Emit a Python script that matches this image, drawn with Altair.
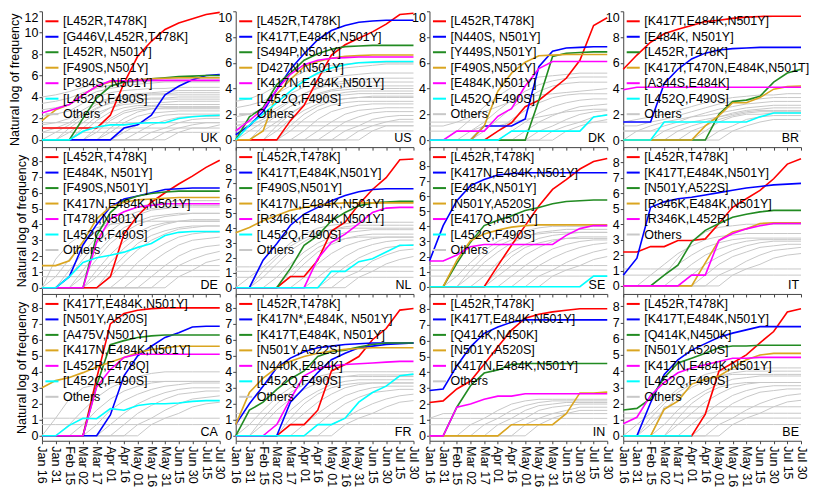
import altair as alt
import pandas as pd

TICK_LABELS = ["Jan 16", "Jan 31", "Feb 15", "Mar 02", "Mar 17", "Apr 01", "Apr 16",
               "May 01", "May 16", "May 31", "Jun 15", "Jun 30", "Jul 15", "Jul 30"]
COLORS = ["#ff0000", "#0000ff", "#228b22", "#daa520", "#ff00ff", "#00ffff"]
OTHERS_COLOR = "#c8c8c8"

# ---------------- UK ----------------
UK_NAMES = ["[L452R,T478K]", "[G446V,L452R,T478K]", "[L452R, N501Y]", "[F490S,N501Y]",
            "[P384S, N501Y]", "[L452Q,F490S]"]
UK_LINES = [
    [1.1, 1.1, 1.1, 1.1, 1.1, 2.3, 5.3, 7.8, 9.2, 10.3, 10.9, 11.3, 11.7, 11.9],
    [0, 0, 0, 0, 0, 0, 1.1, 1.4, 2.3, 4.2, 5.0, 5.6, 6.0, 6.1],
    [0, 0, 0, 2.0, 3.9, 5.0, 5.4, 5.55, 5.7, 5.8, 5.9, 5.95, 6.0, 6.0],
    [1.8, 2.8, 3.3, 4.2, 5.0, 5.4, 5.5, 5.6, 5.7, 5.75, 5.8, 5.8, 5.8, 5.8],
    [2.5, 2.9, 3.3, 4.2, 5.0, 5.5, 5.5, 5.55, 5.55, 5.55, 5.55, 5.55, 5.55, 5.55],
    [0, 0, 0, 0.8, 1.2, 1.4, 1.4, 1.55, 1.6, 1.6, 2.0, 2.15, 2.25, 2.3],
]
UK_OTHERS = [
    [4.0, 4.2, 4.5, 4.9, 5.2, 5.4, 5.5, 5.6, 5.6, 5.7, 5.7, 5.7, 5.7, 5.7],
    [3.4, 3.6, 3.9, 4.4, 4.8, 5.1, 5.3, 5.4, 5.5, 5.5, 5.5, 5.5, 5.5, 5.5],
    [2.8, 3.0, 3.3, 3.9, 4.5, 4.8, 5.0, 5.2, 5.3, 5.4, 5.4, 5.4, 5.4, 5.4],
    [2.2, 2.4, 2.7, 3.4, 4.0, 4.4, 4.6, 4.7, 4.8, 4.8, 4.9, 4.9, 4.9, 4.9],
    [1.4, 1.6, 2.0, 2.8, 3.5, 3.9, 4.1, 4.2, 4.3, 4.3, 4.4, 4.4, 4.4, 4.4],
    [0.7, 1.1, 1.6, 2.5, 3.3, 3.8, 4.1, 4.3, 4.4, 4.5, 4.6, 4.6, 4.6, 4.6],
    [0, 0.7, 1.4, 2.3, 3.0, 3.4, 3.6, 3.8, 3.9, 3.9, 4.0, 4.0, 4.0, 4.0],
    [0, 0, 1.1, 2.0, 2.9, 3.5, 3.9, 4.1, 4.2, 4.2, 4.2, 4.2, 4.2, 4.2],
    [0, 0, 0.7, 1.6, 2.5, 3.0, 3.3, 3.4, 3.5, 3.5, 3.6, 3.6, 3.6, 3.6],
    [0, 0, 0, 1.1, 2.2, 3.0, 3.5, 3.7, 3.8, 3.8, 3.8, 3.8, 3.8, 3.8],
    [0, 0, 0, 0.7, 1.8, 2.6, 3.0, 3.2, 3.2, 3.3, 3.3, 3.3, 3.3, 3.3],
    [0, 0, 0, 0, 1.1, 2.0, 2.7, 3.0, 3.1, 3.1, 3.1, 3.1, 3.1, 3.1],
    [0, 0, 0, 0, 0.7, 1.8, 2.5, 2.8, 2.9, 3.0, 3.0, 3.0, 3.0, 3.0],
    [0, 0, 0, 0, 0, 1.1, 2.0, 2.6, 2.9, 2.9, 2.9, 2.9, 2.9, 2.9],
    [0, 0, 0, 0, 0, 0.7, 1.6, 2.2, 2.5, 2.6, 2.7, 2.7, 2.7, 2.7],
    [0, 0, 0, 0, 0, 0, 0.7, 1.4, 2.0, 2.3, 2.4, 2.4, 2.4, 2.4],
    [0, 0, 0, 0, 0, 0, 0, 0.7, 1.4, 1.8, 2.1, 2.2, 2.2, 2.2],
    [0, 0, 0, 0, 0, 0, 0, 0, 0.7, 1.1, 1.6, 1.9, 2.0, 2.0],
    [0, 0, 0, 0, 0, 0, 0, 0, 0, 0.7, 1.1, 1.4, 1.6, 1.6],
    [0.7, 0.7, 0.7, 0.7, 0.7, 0.7, 0.7, 0.7, 0.7, 0.7, 0.7, 0.7, 0.7, 0.7],
    [1.1, 1.1, 1.1, 1.1, 1.1, 1.1, 1.1, 1.1, 1.1, 1.1, 1.1, 1.1, 1.1, 1.1],
    [1.6, 1.6, 1.6, 1.6, 1.6, 1.6, 1.6, 1.6, 1.6, 1.6, 1.6, 1.6, 1.6, 1.6],
    [0, 0, 0, 0, 0, 0, 0, 0, 0, 0, 0.7, 1.1, 1.1, 1.4],
]

# ---------------- US ----------------
US_NAMES = ["[L452R,T478K]", "[K417T,E484K,N501Y]", "[S494P,N501Y]", "[D427N,N501Y]",
            "[K417N,E484K,N501Y]", "[L452Q,F490S]"]
US_LINES = [
    [0, 0, 0, 0, 1.5, 2.7, 4.7, 6.6, 7.4, 7.9, 8.4, 9.0, 9.75, 9.85],
    [0.4, 1.1, 2.2, 3.9, 5.5, 6.7, 7.8, 8.5, 8.9, 9.15, 9.25, 9.3, 9.3, 9.3],
    [0, 1.8, 2.5, 4.3, 5.2, 6.2, 6.7, 7.05, 7.25, 7.3, 7.35, 7.35, 7.35, 7.35],
    [0, 0, 0.7, 3.55, 4.7, 5.7, 6.1, 6.35, 6.5, 6.55, 6.6, 6.6, 6.6, 6.6],
    [0.7, 1.5, 2.4, 3.9, 5.1, 5.85, 6.2, 6.35, 6.4, 6.45, 6.45, 6.45, 6.45, 6.45],
    [0, 1.15, 2.0, 2.9, 3.8, 4.6, 5.2, 5.6, 5.85, 6.0, 6.05, 6.1, 6.1, 6.1],
]
US_OTHERS = [
    [3.0, 3.2, 3.6, 4.2, 4.8, 5.3, 5.6, 5.8, 5.9, 6.0, 6.0, 6.0, 6.0, 6.0],
    [2.5, 2.7, 3.0, 3.6, 4.2, 4.7, 5.1, 5.4, 5.6, 5.7, 5.8, 5.9, 5.9, 5.9],
    [1.8, 2.0, 2.4, 3.0, 3.6, 4.1, 4.5, 4.8, 5.0, 5.1, 5.2, 5.2, 5.2, 5.2],
    [1.1, 1.4, 1.8, 2.5, 3.1, 3.6, 4.0, 4.3, 4.4, 4.5, 4.5, 4.5, 4.5, 4.5],
    [0.7, 1.1, 1.6, 2.3, 3.0, 3.6, 4.1, 4.4, 4.6, 4.7, 4.8, 4.8, 4.8, 4.8],
    [0, 0.7, 1.4, 2.0, 2.6, 3.1, 3.5, 3.8, 3.9, 4.0, 4.0, 4.0, 4.0, 4.0],
    [0, 0, 1.1, 1.9, 2.6, 3.2, 3.6, 3.9, 4.1, 4.2, 4.2, 4.2, 4.2, 4.2],
    [0, 0, 0.7, 1.4, 2.1, 2.7, 3.1, 3.4, 3.5, 3.6, 3.6, 3.6, 3.6, 3.6],
    [0, 0, 0, 1.1, 2.0, 2.7, 3.2, 3.5, 3.7, 3.8, 3.8, 3.8, 3.8, 3.8],
    [0, 0, 0, 0.7, 1.6, 2.3, 2.8, 3.1, 3.2, 3.3, 3.3, 3.3, 3.3, 3.3],
    [0, 0, 0, 0, 1.1, 2.0, 2.6, 3.0, 3.2, 3.3, 3.4, 3.4, 3.4, 3.4],
    [0, 0, 0, 0, 0.7, 1.6, 2.3, 2.7, 2.9, 3.0, 3.0, 3.0, 3.0, 3.0],
    [0, 0, 0, 0, 0, 0.7, 1.6, 2.2, 2.5, 2.7, 2.8, 2.8, 2.8, 2.8],
    [0, 0, 0, 0, 0, 0, 0.7, 1.4, 2.0, 2.3, 2.4, 2.5, 2.5, 2.5],
    [0, 0, 0, 0, 0, 0, 0, 0.7, 1.4, 1.8, 2.1, 2.2, 2.2, 2.2],
    [0, 0, 0, 0, 0, 0, 0, 0, 0.7, 1.1, 1.6, 1.8, 1.9, 1.9],
    [0, 0, 0, 0, 0, 0, 0, 0, 0, 0.7, 1.1, 1.4, 1.6, 1.6],
    [0.7, 0.7, 0.7, 0.7, 0.7, 0.7, 0.7, 0.7, 0.7, 0.7, 0.7, 0.7, 0.7, 0.7],
    [1.1, 1.1, 1.1, 1.1, 1.1, 1.1, 1.1, 1.1, 1.1, 1.1, 1.1, 1.1, 1.1, 1.1],
    [1.4, 1.4, 1.4, 1.4, 1.4, 1.4, 1.4, 1.4, 1.4, 1.4, 1.4, 1.4, 1.4, 1.4],
    [0, 0, 0, 0, 0, 0, 0, 0, 0, 0, 0.7, 1.1, 1.1, 1.1],
]

# ---------------- DK ----------------
DK_NAMES = ["[L452R,T478K]", "[N440S, N501Y]", "[Y449S,N501Y]", "[F490S,N501Y]",
            "[E484K,N501Y]", "[L452Q,F490S]"]
DK_LINES = [
    [0, 0, 0, 0, 0, 0.7, 1.35, 2.6, 3.1, 3.95, 4.8, 6.2, 8.9, 9.5],
    [0, 0, 0, 0, 1.1, 1.1, 1.1, 1.65, 5.7, 6.9, 7.15, 7.2, 7.25, 7.25],
    [0, 0, 0, 0, 0, 0, 0, 0, 3.1, 6.5, 6.75, 6.8, 6.85, 6.85],
    [0, 0, 0, 0, 1.1, 3.8, 5.2, 6.05, 6.55, 6.6, 6.65, 6.65, 6.65, 6.65],
    [0, 0, 0.7, 0.7, 0.7, 1.85, 2.45, 4.2, 5.55, 6.1, 6.1, 6.1, 6.1, 6.1],
    [0, 0, 0, 0, 0, 0, 0.7, 0.7, 0.7, 0.7, 0.7, 0.7, 1.8, 1.95],
]
DK_OTHERS = [
    [0, 0, 0.7, 1.6, 2.6, 3.4, 4.1, 4.6, 4.9, 5.0, 5.1, 5.2, 5.2, 5.2],
    [0, 0, 0, 0.7, 1.4, 2.3, 3.1, 3.8, 4.3, 4.6, 4.8, 4.9, 4.9, 4.9],
    [0, 0, 0, 0, 0.7, 1.6, 2.5, 3.2, 3.8, 4.2, 4.4, 4.5, 4.5, 4.5],
    [1.1, 1.1, 1.4, 1.8, 2.2, 2.6, 3.0, 3.3, 3.5, 3.6, 3.7, 3.8, 3.9, 4.0],
    [0, 0, 0, 0, 0, 0.7, 1.6, 2.3, 2.9, 3.3, 3.5, 3.6, 3.6, 3.6],
    [0, 0, 0, 0, 0, 0, 0.7, 1.4, 2.1, 2.6, 2.9, 3.1, 3.2, 3.2],
    [0.7, 0.7, 0.7, 0.7, 1.1, 1.1, 1.4, 1.6, 1.8, 2.0, 2.2, 2.3, 2.4, 2.4],
    [0, 0, 0, 0, 0, 0, 0, 0.7, 1.4, 1.9, 2.3, 2.6, 2.7, 2.8],
    [0, 0, 0, 0, 0, 0, 0, 0, 0.7, 1.1, 1.6, 2.0, 2.2, 2.3],
    [0, 0, 0, 0, 0, 0, 0, 0, 0, 0.7, 1.1, 1.4, 1.8, 2.0],
    [0, 0, 0, 0, 0, 0, 0, 0, 0, 0, 0.7, 1.1, 1.4, 1.6],
    [1.4, 1.4, 1.4, 1.4, 1.4, 1.4, 1.4, 1.4, 1.4, 1.4, 1.4, 1.4, 1.4, 1.4],
]

# ---------------- BR ----------------
BR_NAMES = ["[K417T,E484K,N501Y]", "[E484K, N501Y]", "[L452R,T478K]",
            "[K417T,T470N,E484K,N501T]", "[A344S,E484K]", "[L452Q,F490S]"]
BR_LINES = [
    [5.5, 6.6, 7.6, 8.25, 8.6, 8.9, 9.2, 9.3, 9.45, 9.55, 9.6, 9.62, 9.62, 9.62],
    [1.4, 1.4, 1.4, 4.4, 5.5, 6.3, 6.75, 7.0, 7.1, 7.15, 7.2, 7.2, 7.2, 7.2],
    [0, 0, 0, 0, 0, 0, 0, 2.0, 3.0, 3.1, 3.4, 4.5, 5.2, 5.5],
    [0, 0, 0, 0, 0, 0, 1.1, 1.9, 2.9, 2.9, 3.3, 3.95, 4.15, 4.2],
    [3.9, 4.1, 4.1, 4.1, 4.1, 4.1, 4.1, 4.1, 4.1, 4.1, 4.1, 4.1, 4.1, 4.1],
    [0, 0, 0, 1.4, 1.4, 1.4, 1.4, 1.4, 1.4, 1.4, 1.8, 2.1, 2.1, 2.1],
]
BR_OTHERS = [
    [1.4, 1.6, 1.8, 2.0, 2.3, 2.6, 2.9, 3.1, 3.3, 3.4, 3.5, 3.5, 3.6, 3.6],
    [1.1, 1.1, 1.4, 1.6, 1.9, 2.2, 2.5, 2.8, 3.0, 3.1, 3.2, 3.3, 3.3, 3.3],
    [0.7, 0.7, 0.7, 1.1, 1.4, 1.8, 2.1, 2.4, 2.6, 2.8, 2.9, 3.0, 3.0, 3.0],
    [0, 0.7, 1.1, 1.4, 1.6, 1.8, 1.9, 2.1, 2.3, 2.5, 2.6, 2.7, 2.7, 2.7],
    [0, 0, 0, 0.7, 1.1, 1.4, 1.6, 1.8, 2.1, 2.3, 2.4, 2.5, 2.5, 2.5],
    [0, 0, 0, 0, 0.7, 1.1, 1.4, 1.8, 2.0, 2.2, 2.3, 2.3, 2.3, 2.3],
    [0, 0, 0, 0, 0, 0.7, 1.1, 1.6, 1.9, 2.1, 2.2, 2.2, 2.2, 2.2],
    [0, 0, 0, 0, 0, 0, 0.7, 1.4, 1.8, 2.0, 2.0, 2.1, 2.1, 2.1],
    [0, 0, 0, 0, 0, 0, 0, 0.7, 1.1, 1.6, 1.8, 1.9, 1.9, 1.9],
    [0, 0, 0, 0, 0, 0, 0, 0, 0.7, 1.1, 1.4, 1.6, 1.6, 1.6],
    [0.7, 0.7, 0.7, 0.7, 0.7, 0.7, 0.7, 0.7, 0.7, 0.7, 0.7, 0.7, 0.7, 0.7],
]

# ---------------- DE ----------------
DE_NAMES = ["[L452R,T478K]", "[E484K, N501Y]", "[F490S,N501Y]", "[K417N,E484K,N501Y]",
            "[T478I,N501Y]", "[L452Q,F490S]"]
DE_LINES = [
    [0, 0, 0, 0, 0, 0.7, 3.4, 4.55, 5.4, 6.0, 6.55, 7.05, 7.6, 8.05],
    [0, 0, 0.7, 2.7, 4.0, 5.1, 5.6, 5.8, 6.0, 6.2, 6.25, 6.3, 6.3, 6.3],
    [0, 0, 0, 0, 3.3, 4.75, 5.5, 5.8, 5.95, 6.05, 6.1, 6.1, 6.1, 6.1],
    [1.4, 1.4, 1.7, 2.9, 4.35, 5.1, 5.4, 5.55, 5.6, 5.65, 5.7, 5.7, 5.7, 5.7],
    [0, 0, 0, 0, 2.9, 4.35, 4.8, 5.1, 5.2, 5.3, 5.3, 5.3, 5.3, 5.3],
    [0, 0, 0.7, 1.6, 1.9, 2.05, 2.25, 2.55, 2.8, 3.3, 3.5, 3.55, 3.55, 3.55],
]
DE_OTHERS = [
    [0, 1.8, 2.8, 3.4, 3.8, 4.0, 4.1, 4.2, 4.2, 4.2, 4.2, 4.2, 4.2, 4.2],
    [0, 0.7, 1.8, 2.8, 3.6, 4.3, 4.8, 5.1, 5.3, 5.4, 5.5, 5.5, 5.5, 5.5],
    [0, 0, 1.1, 2.2, 3.2, 4.0, 4.5, 4.8, 5.0, 5.1, 5.2, 5.2, 5.2, 5.2],
    [0, 0, 0.7, 1.8, 2.8, 3.6, 4.2, 4.6, 4.9, 5.0, 5.1, 5.1, 5.1, 5.1],
    [0, 0, 0, 1.1, 2.2, 3.1, 3.8, 4.2, 4.5, 4.6, 4.7, 4.7, 4.7, 4.7],
    [0, 0, 0, 0.7, 1.8, 2.8, 3.5, 4.0, 4.3, 4.5, 4.6, 4.7, 4.7, 4.7],
    [0, 0, 0, 0, 1.1, 2.1, 2.9, 3.5, 3.9, 4.1, 4.2, 4.2, 4.2, 4.2],
    [0, 0, 0, 0, 0.7, 1.6, 2.5, 3.2, 3.7, 4.0, 4.2, 4.3, 4.3, 4.3],
    [0, 0, 0, 0, 0, 1.1, 2.0, 2.8, 3.3, 3.6, 3.8, 3.9, 3.9, 3.9],
    [0, 0, 0, 0, 0, 0.7, 1.6, 2.4, 3.0, 3.4, 3.7, 3.8, 3.9, 3.9],
    [0, 0, 0, 0, 0, 0, 0.7, 1.6, 2.3, 2.8, 3.2, 3.4, 3.5, 3.5],
    [0, 0, 0, 0, 0, 0, 0, 0.7, 1.6, 2.2, 2.7, 3.0, 3.1, 3.2],
    [0, 0, 0, 0, 0, 0, 0, 0, 0.7, 1.4, 2.0, 2.4, 2.6, 2.7],
    [0, 0, 0, 0, 0, 0, 0, 0, 0, 0.7, 1.4, 1.8, 2.1, 2.3],
    [0, 0, 0, 0, 0, 0, 0, 0, 0, 0, 0.7, 1.1, 1.6, 1.8],
    [0.7, 0.7, 0.7, 0.7, 0.7, 0.7, 0.7, 0.7, 0.7, 0.7, 0.7, 0.7, 0.7, 0.7],
    [1.1, 1.1, 1.1, 1.1, 1.1, 1.1, 1.1, 1.1, 1.1, 1.1, 1.1, 1.1, 1.1, 1.1],
    [1.4, 1.4, 1.4, 1.4, 1.4, 1.4, 1.4, 1.4, 1.4, 1.4, 1.4, 1.4, 1.4, 1.4],
]

# ---------------- NL ----------------
NL_NAMES = ["[L452R,T478K]", "[K417T,E484K,N501Y]", "[F490S,N501Y]", "[K417N,E484K,N501Y]",
            "[R346K,E484K,N501Y]", "[L452Q,F490S]"]
NL_LINES = [
    [0, 0, 0, 0, 0.75, 0.75, 1.85, 3.8, 4.4, 5.6, 6.6, 7.4, 8.6, 8.65],
    [0, 0, 1.85, 2.95, 4.2, 4.95, 5.4, 5.85, 6.2, 6.45, 6.6, 6.65, 6.65, 6.65],
    [0, 0, 0, 0, 1.3, 2.85, 3.5, 4.5, 5.05, 5.5, 5.7, 5.75, 5.8, 5.8],
    [3.7, 4.05, 4.5, 4.85, 5.2, 5.4, 5.55, 5.65, 5.7, 5.7, 5.7, 5.7, 5.7, 5.7],
    [0, 0, 0, 0, 0, 0, 1.95, 3.05, 3.6, 4.3, 5.05, 5.35, 5.4, 5.4],
    [0, 0, 0, 0, 0, 0, 0, 1.1, 1.1, 1.75, 1.95, 2.4, 2.85, 2.85],
]
NL_OTHERS = [
    [0, 0.7, 1.4, 2.2, 3.0, 3.6, 4.0, 4.2, 4.3, 4.4, 4.4, 4.4, 4.4, 4.4],
    [0, 0, 1.1, 2.0, 2.8, 3.3, 3.7, 3.9, 4.0, 4.0, 4.0, 4.0, 4.0, 4.0],
    [0, 0, 0.7, 1.6, 2.5, 3.1, 3.6, 3.9, 4.1, 4.2, 4.2, 4.2, 4.2, 4.2],
    [0, 0, 0, 0.7, 1.6, 2.4, 3.0, 3.4, 3.7, 3.8, 3.9, 3.9, 3.9, 3.9],
    [0, 0, 0, 0, 1.1, 2.0, 2.7, 3.1, 3.3, 3.4, 3.4, 3.4, 3.4, 3.4],
    [0, 0, 0, 0, 0.7, 1.6, 2.4, 2.9, 3.3, 3.5, 3.6, 3.6, 3.6, 3.6],
    [0, 0, 0, 0, 0, 0.7, 1.6, 2.3, 2.8, 3.1, 3.3, 3.4, 3.4, 3.4],
    [0, 0, 0, 0, 0, 0, 0.7, 1.4, 2.1, 2.6, 2.9, 3.1, 3.2, 3.2],
    [0, 0, 0, 0, 0, 0, 0, 0.7, 1.4, 2.0, 2.4, 2.7, 2.8, 2.9],
    [0, 0, 0, 0, 0, 0, 0, 0, 0.7, 1.1, 1.8, 2.2, 2.5, 2.6],
    [0, 0, 0, 0, 0, 0, 0, 0, 0, 0.7, 1.1, 1.6, 1.9, 2.1],
    [0.7, 0.7, 0.7, 0.7, 0.7, 0.7, 0.7, 0.7, 0.7, 0.7, 0.7, 0.7, 0.7, 0.7],
    [1.1, 1.1, 1.1, 1.1, 1.1, 1.1, 1.1, 1.1, 1.1, 1.1, 1.1, 1.1, 1.1, 1.1],
    [1.4, 1.4, 1.4, 1.4, 1.4, 1.4, 1.4, 1.4, 1.4, 1.4, 1.4, 1.4, 1.4, 1.4],
]

# ---------------- SE ----------------
SE_NAMES = ["[L452R,T478K]", "[K417N,E484K,N501Y]", "[E484K,N501Y]", "[N501Y,A520S]",
            "[E417Q,N501Y]", "[L452Q,F490S]"]
SE_LINES = [
    [0, 0, 0, 0, 0, 1.4, 2.75, 4.05, 5.35, 6.45, 7.1, 7.8, 8.3, 8.5],
    [1.7, 4.05, 5.7, 6.7, 7.1, 7.4, 7.5, 7.55, 7.55, 7.55, 7.55, 7.55, 7.55, 7.55],
    [0, 0, 1.55, 2.95, 4.05, 4.4, 4.7, 5.05, 5.25, 5.5, 5.65, 5.7, 5.75, 5.75],
    [0, 0, 1.75, 3.05, 3.5, 3.75, 3.95, 4.05, 4.1, 4.1, 4.1, 4.1, 4.1, 4.1],
    [1.7, 1.7, 2.1, 2.65, 2.8, 2.8, 2.8, 2.8, 2.8, 2.8, 3.4, 3.85, 4.05, 4.05],
    [0, 0, 0, 0, 0, 0, 0, 0, 0, 0, 0, 0, 0.7, 0.7],
]
SE_OTHERS = [
    [0, 0, 0.7, 1.6, 2.4, 3.0, 3.4, 3.7, 3.9, 4.0, 4.0, 4.0, 4.0, 4.0],
    [0, 0, 0, 1.1, 2.0, 2.7, 3.1, 3.4, 3.5, 3.6, 3.6, 3.6, 3.6, 3.6],
    [0, 0, 0, 0.7, 1.6, 2.3, 2.9, 3.3, 3.6, 3.7, 3.8, 3.8, 3.8, 3.8],
    [0, 0, 0, 0, 0.7, 1.6, 2.3, 2.8, 3.2, 3.4, 3.5, 3.6, 3.6, 3.6],
    [0, 0, 0, 0, 0, 1.1, 2.0, 2.6, 2.9, 3.1, 3.2, 3.2, 3.2, 3.2],
    [0, 0, 0, 0, 0, 0.7, 1.4, 2.1, 2.6, 3.0, 3.2, 3.3, 3.3, 3.3],
    [0, 0, 0, 0, 0, 0, 0.7, 1.4, 2.0, 2.5, 2.8, 3.0, 3.1, 3.1],
    [0, 0, 0, 0, 0, 0, 0, 0.7, 1.4, 1.9, 2.3, 2.6, 2.8, 2.9],
    [0, 0, 0, 0, 0, 0, 0, 0, 0.7, 1.1, 1.6, 2.0, 2.3, 2.5],
    [0, 0, 0, 0, 0, 0, 0, 0, 0, 0.7, 1.1, 1.4, 1.8, 2.0],
    [0.7, 0.7, 0.7, 0.7, 0.7, 0.7, 0.7, 0.7, 0.7, 0.7, 0.7, 0.7, 0.7, 0.7],
    [1.1, 1.1, 1.1, 1.1, 1.1, 1.1, 1.1, 1.1, 1.1, 1.1, 1.1, 1.1, 1.1, 1.1],
    [1.4, 1.4, 1.4, 1.4, 1.4, 1.4, 1.4, 1.4, 1.4, 1.4, 1.4, 1.4, 1.4, 1.4],
]

# ---------------- IT ----------------
IT_NAMES = ["[L452R,T478K]", "[K417T,E484K,N501Y]", "[N501Y,A522S]", "[R346K,E484K,N501Y]",
            "[R346K,L452R]"]
IT_LINES = [
    [2.2, 2.2, 2.55, 2.55, 2.95, 2.95, 3.05, 4.05, 5.1, 5.65, 6.2, 6.95, 7.9, 8.25],
    [0.7, 1.8, 5.1, 5.45, 5.65, 5.75, 5.9, 6.05, 6.2, 6.35, 6.45, 6.55, 6.6, 6.65],
    [0, 0, 0, 0.7, 1.35, 2.85, 3.6, 4.05, 4.45, 4.65, 4.8, 4.9, 4.9, 4.9],
    [0, 0, 0, 0, 0, 0, 1.5, 2.95, 3.5, 3.7, 4.05, 4.1, 4.1, 4.1],
    [0, 0, 0, 0, 0, 0.7, 0.7, 2.95, 3.4, 3.7, 3.9, 4.05, 4.05, 4.05],
]
IT_OTHERS = [
    [0, 0, 0, 0.7, 1.8, 2.8, 3.5, 3.8, 3.9, 4.0, 4.0, 4.0, 4.0, 4.0],
    [0, 0, 0.7, 1.4, 2.1, 2.6, 3.0, 3.2, 3.3, 3.4, 3.4, 3.4, 3.4, 3.4],
    [0, 0, 0, 0.7, 1.4, 2.0, 2.5, 2.8, 3.0, 3.1, 3.1, 3.1, 3.1, 3.1],
    [0, 0, 0, 0, 0.7, 1.4, 2.0, 2.4, 2.7, 2.9, 3.0, 3.0, 3.0, 3.0],
    [0, 0, 0, 0, 0, 0.7, 1.4, 1.9, 2.3, 2.6, 2.8, 2.9, 2.9, 2.9],
    [0, 0, 0, 0, 0, 0, 0.7, 1.4, 1.9, 2.2, 2.5, 2.6, 2.7, 2.7],
    [0, 0, 0, 0, 0, 0, 0, 0.7, 1.1, 1.6, 2.0, 2.3, 2.4, 2.5],
    [0, 0, 0, 0, 0, 0, 0, 0, 0.7, 1.1, 1.4, 1.8, 2.0, 2.1],
    [0.7, 0.7, 0.7, 0.7, 0.7, 0.7, 0.7, 0.7, 0.7, 0.7, 0.7, 0.7, 0.7, 0.7],
    [1.1, 1.1, 1.1, 1.1, 1.1, 1.1, 1.1, 1.1, 1.1, 1.1, 1.1, 1.1, 1.1, 1.1],
]

# ---------------- CA ----------------
CA_NAMES = ["[K417T,E484K,N501Y]", "[N501Y,A520S]", "[A475V,N501Y]", "[K417N,E484K,N501Y]",
            "[L452R,E478Q]", "[L452Q,F490S]"]
CA_LINES = [
    [0, 0, 0, 0, 3.6, 7.0, 7.65, 7.85, 7.95, 8.0, 8.0, 8.0, 8.0, 8.0],
    [0, 0, 0, 0, 0, 1.3, 3.75, 5.0, 5.6, 6.15, 6.45, 6.8, 6.85, 6.85],
    [0, 0, 0, 0, 3.15, 5.7, 5.95, 6.15, 6.25, 6.3, 6.3, 6.3, 6.3, 6.3],
    [3.0, 3.45, 3.65, 3.95, 4.3, 4.6, 4.9, 5.2, 5.4, 5.5, 5.6, 5.6, 5.6, 5.6],
    [0, 0, 0, 0, 3.05, 4.15, 4.9, 5.1, 5.1, 5.1, 5.1, 5.1, 5.1, 5.1],
    [0, 0, 0.65, 1.1, 1.07, 1.7, 1.6, 1.9, 2.0, 2.0, 2.05, 2.15, 2.2, 2.2],
]
CA_OTHERS = [
    [0, 1.1, 2.3, 3.0, 3.2, 3.3, 3.4, 3.4, 3.4, 3.4, 3.4, 3.4, 3.4, 3.4],
    [0, 0, 0.7, 1.6, 2.4, 3.0, 3.4, 3.7, 3.9, 4.0, 4.0, 4.0, 4.0, 4.0],
    [0, 0, 0, 0.7, 1.6, 2.3, 2.8, 3.1, 3.3, 3.4, 3.4, 3.4, 3.4, 3.4],
    [0, 0, 0, 0, 0.7, 1.6, 2.2, 2.6, 2.9, 3.1, 3.2, 3.3, 3.3, 3.3],
    [0, 0, 0, 0, 0, 0.7, 1.4, 2.0, 2.4, 2.7, 2.9, 3.0, 3.0, 3.0],
    [0, 0, 0, 0, 0, 0, 0.7, 1.4, 1.9, 2.3, 2.6, 2.7, 2.8, 2.8],
    [0, 0, 0, 0, 0, 0, 0, 0.7, 1.1, 1.6, 2.0, 2.3, 2.4, 2.5],
    [0, 0, 0, 0, 0, 0, 0, 0, 0.7, 1.1, 1.4, 1.8, 2.0, 2.1],
    [0.7, 0.7, 0.7, 0.7, 0.7, 0.7, 0.7, 0.7, 0.7, 0.7, 0.7, 0.7, 0.7, 0.7],
    [1.1, 1.1, 1.1, 1.1, 1.1, 1.1, 1.1, 1.1, 1.1, 1.1, 1.1, 1.1, 1.1, 1.1],
]

# ---------------- FR ----------------
FR_NAMES = ["[L452R,T478K]", "[K417N*,E484K, N501Y]", "[K417N*,E484K, N501Y]",
            "[K417T,E484K, N501Y]", "[N501Y,A522S]", "[N440K,E484K]", "[L452Q,F490S]"]
FR_LINES = [
    [0, 0, 0, 0, 0.7, 0.7, 1.6, 4.05, 4.45, 4.95, 6.0, 6.7, 7.85, 7.95],
    [0.7, 2.0, 3.1, 4.25, 4.85, 5.25, 5.5, 5.6, 5.7, 5.75, 5.8, 5.8, 5.8, 5.8],
    [0, 0, 0, 0, 2.1, 3.0, 3.95, 4.75, 5.15, 5.5, 5.6, 5.7, 5.75, 5.8],
    [0, 1.6, 2.1, 2.9, 3.55, 4.05, 4.95, 5.25, 5.35, 5.55, 5.7, 5.8, 5.8, 5.8],
    [0.7, 2.7, 3.6, 4.25, 4.65, 4.95, 5.15, 5.3, 5.4, 5.45, 5.5, 5.5, 5.5, 5.5],
    [0, 0, 0, 0.7, 2.3, 3.75, 4.2, 4.35, 4.45, 4.5, 4.55, 4.6, 4.65, 4.65],
    [0, 0, 0, 0, 0, 0, 0.7, 0.7, 1.1, 2.1, 2.7, 3.1, 3.75, 3.85],
]
FR_OTHERS = [
    [0, 0.7, 1.6, 2.4, 3.0, 3.4, 3.7, 3.9, 4.0, 4.0, 4.0, 4.0, 4.0, 4.0],
    [0, 0, 1.1, 2.0, 2.7, 3.2, 3.5, 3.6, 3.7, 3.7, 3.7, 3.7, 3.7, 3.7],
    [0, 0, 0.7, 1.6, 2.3, 2.9, 3.3, 3.6, 3.7, 3.8, 3.8, 3.8, 3.8, 3.8],
    [0, 0, 0, 0.7, 1.6, 2.3, 2.8, 3.2, 3.4, 3.5, 3.5, 3.5, 3.5, 3.5],
    [0, 0, 0, 0, 1.1, 2.0, 2.6, 3.0, 3.2, 3.3, 3.3, 3.3, 3.3, 3.3],
    [0, 0, 0, 0, 0.7, 1.4, 2.1, 2.6, 3.0, 3.2, 3.3, 3.3, 3.3, 3.3],
    [0, 0, 0, 0, 0, 0.7, 1.4, 2.0, 2.5, 2.8, 3.0, 3.1, 3.1, 3.1],
    [0, 0, 0, 0, 0, 0, 0.7, 1.4, 2.0, 2.4, 2.7, 2.8, 2.9, 2.9],
    [0, 0, 0, 0, 0, 0, 0, 0.7, 1.1, 1.6, 2.0, 2.3, 2.5, 2.6],
    [0, 0, 0, 0, 0, 0, 0, 0, 0.7, 1.1, 1.4, 1.8, 2.1, 2.2],
    [0.7, 0.7, 0.7, 0.7, 0.7, 0.7, 0.7, 0.7, 0.7, 0.7, 0.7, 0.7, 0.7, 0.7],
    [1.1, 1.1, 1.1, 1.1, 1.1, 1.1, 1.1, 1.1, 1.1, 1.1, 1.1, 1.1, 1.1, 1.1],
    [1.4, 1.4, 1.4, 1.4, 1.4, 1.4, 1.4, 1.4, 1.4, 1.4, 1.4, 1.4, 1.4, 1.4],
]

# ---------------- IN ----------------
IN_NAMES = ["[L452R,T478K]", "[K417T,E484K,N501Y]", "[Q414K,N450K]", "[N501Y,A520S]",
            "[K417N,E484K,N501Y]"]
IN_LINES = [
    [2.1, 2.2, 2.95, 3.45, 4.5, 5.6, 6.65, 7.4, 7.65, 7.8, 7.9, 8.0, 8.0, 8.0],
    [2.85, 2.95, 4.4, 5.6, 6.45, 6.85, 7.15, 7.3, 7.3, 7.3, 7.3, 7.3, 7.3, 7.3],
    [0, 0, 1.8, 3.15, 3.95, 4.15, 4.5, 4.55, 4.55, 4.55, 4.55, 4.55, 4.55, 4.55],
    [0, 0, 0, 0, 0, 0, 0.7, 0.7, 0.7, 0.7, 1.4, 2.7, 2.7, 2.75],
    [0, 0, 1.8, 2.0, 2.3, 2.5, 2.5, 2.65, 2.65, 2.65, 2.65, 2.65, 2.65, 2.65],
]
IN_OTHERS = [
    [0, 0, 0, 0.7, 1.1, 1.6, 2.0, 2.2, 2.3, 2.3, 2.3, 2.3, 2.3, 2.3],
    [0, 0, 0, 0, 0.7, 1.1, 1.6, 1.9, 2.1, 2.2, 2.2, 2.2, 2.2, 2.2],
    [0, 0, 0, 0, 0, 0.7, 1.1, 1.6, 1.9, 2.0, 2.1, 2.1, 2.1, 2.1],
    [0, 0, 0, 0, 0, 0, 0.7, 1.1, 1.6, 1.8, 1.9, 2.0, 2.0, 2.0],
    [0, 0, 0, 0, 0, 0, 0, 0.7, 1.1, 1.4, 1.6, 1.8, 1.8, 1.8],
    [0, 0, 0, 0, 0, 0, 0, 0, 0.7, 1.1, 1.4, 1.6, 1.6, 1.6],
    [0.7, 0.7, 0.7, 0.7, 0.7, 0.7, 0.7, 0.7, 0.7, 0.7, 0.7, 0.7, 0.7, 0.7],
    [1.1, 1.1, 1.1, 1.1, 1.1, 1.1, 1.1, 1.1, 1.1, 1.1, 1.1, 1.1, 1.1, 1.1],
    [1.1, 1.4, 1.4, 1.4, 1.4, 1.4, 1.4, 1.4, 1.4, 1.4, 1.4, 1.4, 1.4, 1.4],
]

# ---------------- BE ----------------
BE_NAMES = ["[L452R,T478K]", "[K417T,E484K,N501Y]", "[Q414K,N450K]", "[N501Y,A520S]",
            "[K417N,E484K,N501Y]", "[L452Q,F490S]"]
BE_LINES = [
    [0, 0, 0, 0, 0, 0, 1.35, 4.0, 4.5, 5.0, 5.75, 6.45, 7.65, 7.85],
    [0, 0, 2.05, 3.8, 4.7, 5.3, 5.7, 6.1, 6.35, 6.55, 6.75, 6.75, 6.75, 6.75],
    [1.6, 1.7, 2.3, 3.6, 4.5, 4.8, 5.1, 5.45, 5.55, 5.55, 5.6, 5.6, 5.6, 5.6],
    [0, 0, 0, 1.65, 2.15, 3.2, 3.5, 3.7, 4.2, 4.7, 5.0, 5.1, 5.1, 5.1],
    [0.75, 1.15, 2.5, 3.3, 3.9, 4.2, 4.4, 4.6, 4.8, 4.8, 4.85, 4.85, 4.85, 4.85],
    [0, 0, 0, 0, 0, 0, None, None, None, None, None, None, None, None],
]
BE_OTHERS = [
    [0, 0.7, 1.4, 2.2, 2.9, 3.4, 3.8, 4.0, 4.1, 4.2, 4.2, 4.2, 4.2, 4.2],
    [0, 0, 1.1, 2.0, 2.7, 3.2, 3.5, 3.7, 3.8, 3.8, 3.8, 3.8, 3.8, 3.8],
    [0, 0, 0.7, 1.6, 2.4, 3.0, 3.4, 3.7, 3.9, 4.0, 4.0, 4.0, 4.0, 4.0],
    [0, 0, 0, 0.7, 1.6, 2.3, 2.8, 3.2, 3.5, 3.6, 3.7, 3.7, 3.7, 3.7],
    [0, 0, 0, 0, 1.1, 2.0, 2.6, 3.0, 3.2, 3.3, 3.3, 3.3, 3.3, 3.3],
    [0, 0, 0, 0, 0.7, 1.4, 2.1, 2.6, 3.0, 3.2, 3.3, 3.3, 3.3, 3.3],
    [0, 0, 0, 0, 0, 0.7, 1.4, 2.0, 2.5, 2.8, 3.0, 3.1, 3.1, 3.1],
    [0, 0, 0, 0, 0, 0, 0.7, 1.4, 2.0, 2.4, 2.7, 2.8, 2.9, 2.9],
    [0, 0, 0, 0, 0, 0, 0, 0.7, 1.1, 1.6, 2.0, 2.3, 2.5, 2.6],
    [0, 0, 0, 0, 0, 0, 0, 0, 0.7, 1.1, 1.4, 1.8, 2.1, 2.2],
    [0.7, 0.7, 0.7, 0.7, 0.7, 0.7, 0.7, 0.7, 0.7, 0.7, 0.7, 0.7, 0.7, 0.7],
    [1.1, 1.1, 1.1, 1.1, 1.1, 1.1, 1.1, 1.1, 1.1, 1.1, 1.1, 1.1, 1.1, 1.1],
    [1.4, 1.4, 1.4, 1.4, 1.4, 1.4, 1.4, 1.4, 1.4, 1.4, 1.4, 1.4, 1.4, 1.4],
    [0, 0, 0, 1.8, 1.8, 1.8, 1.8, 1.8, 1.8, 1.8, 1.8, 1.8, 1.8, 1.8],
]

Y_TICKS_12 = [0, 2, 4, 6, 8, 10, 12]
Y_TICKS_10 = [0, 2, 4, 6, 8, 10]
Y_TICKS_8 = [0, 1, 2, 3, 4, 5, 6, 7, 8]

PANELS = [
    ("UK", UK_NAMES, UK_LINES, UK_OTHERS, [-0.68, 12.0], Y_TICKS_12),
    ("US", US_NAMES, US_LINES, US_OTHERS, [-0.56, 10.0], Y_TICKS_10),
    ("DK", DK_NAMES, DK_LINES, DK_OTHERS, [-0.54, 10.0], Y_TICKS_10),
    ("BR", BR_NAMES, BR_LINES, BR_OTHERS, [-0.55, 10.0], Y_TICKS_10),
    ("DE", DE_NAMES, DE_LINES, DE_OTHERS, [-0.39, 8.88], Y_TICKS_8),
    ("NL", NL_NAMES, NL_LINES, NL_OTHERS, [-0.42, 9.45], Y_TICKS_8),
    ("SE", SE_NAMES, SE_LINES, SE_OTHERS, [-0.48, 9.25], Y_TICKS_8),
    ("IT", IT_NAMES, IT_LINES, IT_OTHERS, [-0.52, 9.0], Y_TICKS_8),
    ("CA", CA_NAMES, CA_LINES, CA_OTHERS, [-0.31, 8.87], Y_TICKS_8),
    ("FR", FR_NAMES, FR_LINES, FR_OTHERS, [-0.31, 8.86], Y_TICKS_8),
    ("IN", IN_NAMES, IN_LINES, IN_OTHERS, [-0.31, 8.93], Y_TICKS_8),
    ("BE", BE_NAMES, BE_LINES, BE_OTHERS, [-0.30, 8.77], Y_TICKS_8),
]

LABEL_EXPR = "[" + ",".join("'" + s + "'" for s in TICK_LABELS) + "][datum.value]"
FONT_SIZE = 12.5
W = 178


def build_panel(idx, country, names, lines, others, ydom, yvals):
    row, col = divmod(idx, 4)
    h = 136 if row == 0 else 147
    uniq = list(dict.fromkeys(names))
    domain = uniq + ["Others"]
    rng = COLORS[:len(uniq)] + [OTHERS_COLOR]

    gray_recs = []
    for j, line in enumerate(others):
        for t, v in enumerate(line):
            gray_recs.append({"t": t, "v": v, "s": "Others", "k": "o%02d" % j})
    col_recs = []
    for j, (nm, line) in enumerate(zip(names, lines)):
        for t, v in enumerate(line):
            if v is not None:
                col_recs.append({"t": t, "v": v, "s": nm, "k": "c%d" % j})

    if row == 2:
        xaxis = alt.Axis(values=list(range(14)), labelExpr=LABEL_EXPR, labelAngle=90,
                         labelFlush=False, labelOverlap=False, labelPadding=2,
                         tickSize=3, title=None)
    else:
        xaxis = alt.Axis(values=list(range(14)), labels=False, tickSize=3, title=None)

    if col == 0:
        yaxis = alt.Axis(values=yvals, tickSize=3, labelPadding=1, labelFlush=4,
                         labelOverlap=False, title="Natural log of frequency", titlePadding=3)
    else:
        yaxis = alt.Axis(values=yvals, tickSize=3, labelPadding=1, labelFlush=4,
                         labelOverlap=False, title=None)

    x = alt.X("t:Q", scale=alt.Scale(domain=[0, 13], nice=False, zero=False), axis=xaxis)
    y = alt.Y("v:Q", scale=alt.Scale(domain=ydom, nice=False, zero=False), axis=yaxis)
    color = alt.Color(
        "s:N",
        scale=alt.Scale(domain=domain, range=rng),
        legend=alt.Legend(title=None, orient="top-left", offset=2, padding=0,
                          symbolType="stroke", symbolStrokeWidth=2, symbolSize=170,
                          labelFontSize=FONT_SIZE, labelLimit=400, labelOffset=3,
                          rowPadding=0.5, labelColor="#000000"),
    )

    gray = alt.Chart(pd.DataFrame(gray_recs)).mark_line(strokeWidth=1).encode(
        x=x, y=y, color=color, detail="k:N")
    colored = alt.Chart(pd.DataFrame(col_recs)).mark_line(strokeWidth=1.6).encode(
        x=x, y=y, color=color, detail="k:N")
    label = alt.Chart(pd.DataFrame({"c": [country]})).mark_text(
        align="right", baseline="bottom", fontSize=FONT_SIZE, color="#000000"
    ).encode(x=alt.value(W - 2), y=alt.value(h - 2), text="c:N")

    return alt.layer(gray, colored, label).properties(width=W, height=h)


panels = [build_panel(i, *p) for i, p in enumerate(PANELS)]

chart = alt.concat(
    *panels, columns=4, spacing={"row": 0, "column": 16}, bounds="flush"
).resolve_scale(
    x="independent", y="independent", color="independent"
).resolve_legend(
    color="independent"
).properties(
    padding=0
).configure(
    font="Liberation Sans"
).configure_view(
    stroke=None
).configure_axis(
    labelFontSize=FONT_SIZE, titleFontSize=FONT_SIZE, titleFontWeight="normal",
    labelColor="#000000", titleColor="#000000", domainColor="#444444",
    tickColor="#444444", grid=False
)

chart.save("out.html", embed_options={"renderer": "svg", "actions": False})
